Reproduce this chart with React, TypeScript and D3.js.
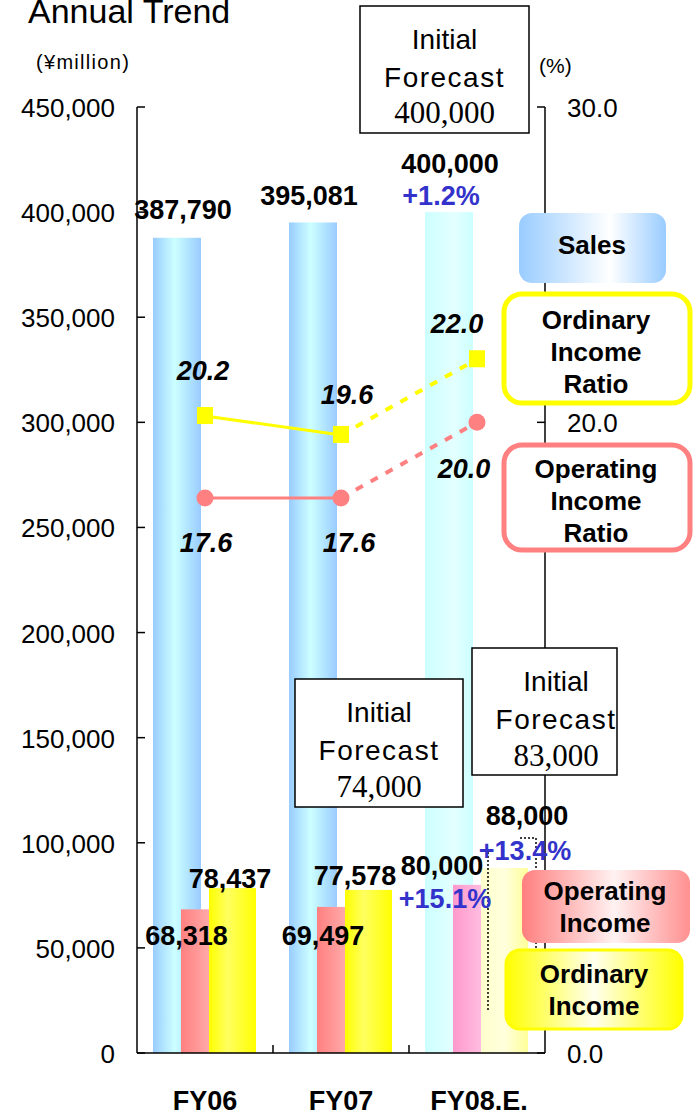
import React from "react";
import * as d3 from "d3";

const categories = ["FY06", "FY07", "FY08.E."];
const sales = [387790, 395081, 400000];
const operatingIncome = [68318, 69497, 80000];
const ordinaryIncome = [78437, 77578, 88000];
const ordinaryRatio = [20.2, 19.6, 22.0];
const operatingRatio = [17.6, 17.6, 20.0];
const leftTicks = [0, 50000, 100000, 150000, 200000, 250000, 300000, 350000, 400000, 450000];
const rightTicks = [0, 10, 20, 30];
const rightTickLabels = [0, 20, 30];
const growth = { sales: "+1.2%", operating: "+15.1%", ordinary: "+13.4%" };
const forecasts = [
  { lines: ["Initial", "Forecast"], value: "400,000" },
  { lines: ["Initial", "Forecast"], value: "74,000" },
  { lines: ["Initial", "Forecast"], value: "83,000" },
];

const W = 699, H = 1117;
const fmt = d3.format(",");
const fmt1 = d3.format(".1f");

export default function App() {
  const x = d3.scaleBand().domain(categories).range([137, 545]).padding(0);
  const yL = d3.scaleLinear().domain([0, 450000]).range([1053, 107]);
  const yR = d3.scaleLinear().domain([0, 30]).range([1053, 107]);
  const bw = x.bandwidth();
  const cx = (i: number) => (x(categories[i]) as number) + bw / 2;

  const sans = "'Liberation Sans', Arial, sans-serif";
  const serif = "'Liberation Serif', 'Times New Roman', serif";

  const line = d3.line<[number, number]>().x((d) => d[0]).y((d) => d[1]);
  const seg = (vals: number[], a: number, b: number) =>
    line([[cx(a), yR(vals[a])], [cx(b), yR(vals[b])]]) as string;

  const salesFill = (i: number) => (i === 2 ? "url(#sales08)" : "url(#salesG)");
  const opFill = (i: number) => (i === 2 ? "url(#op08)" : "url(#opG)");
  const ordFill = (i: number) => (i === 2 ? "url(#ord08)" : "url(#ordG)");

  const salesLbl = [{ dx: -22, dy: -19 }, { dx: -32, dy: -17.5 }, { dx: -27, dy: -39 }];
  const ordLbl = [{ dx: 25, dy: 0 }, { dx: 14, dy: -5 }, { dx: 50, dy: -43 }];
  const opLbl = [{ dx: -18.5, dy: 36 }, { dx: -18, dy: 38 }, { dx: -35, dy: -10 }];

  const ordRatioLbl = [{ dx: -2, dy: -36 }, { dx: 6, dy: -31 }, { dx: -20, dy: -26 }];
  const opRatioLbl = [{ dx: 1, dy: 54 }, { dx: 8, dy: 54 }, { dx: -13, dy: 56 }];

  const boxes = [
    { x: 360, y: 6, w: 169, h: 127, tx: 444.5, b: [49, 87, 123] },
    { x: 295, y: 679, w: 168, h: 128, tx: 379, b: [722, 760, 797] },
    { x: 472, y: 648, w: 145, h: 127, tx: 556, b: [691, 729, 766] },
  ];

  return (
    <svg width={W} height={H} style={{ position: "absolute", left: 0, top: 0, background: "#fff" }}>
      <defs>
        <linearGradient id="salesG" x1="0" x2="1" y1="0" y2="0">
          <stop offset="0" stopColor="#99ccff" />
          <stop offset="0.45" stopColor="#ccffff" />
          <stop offset="1" stopColor="#99ccff" />
        </linearGradient>
        <linearGradient id="sales08" x1="0" x2="1" y1="0" y2="0">
          <stop offset="0" stopColor="#ccffff" />
          <stop offset="0.6" stopColor="#e4ffff" />
          <stop offset="1" stopColor="#ccffff" />
        </linearGradient>
        <linearGradient id="opG" x1="0" x2="1" y1="0" y2="0">
          <stop offset="0" stopColor="#ff8080" />
          <stop offset="1" stopColor="#ffc4c4" />
        </linearGradient>
        <linearGradient id="op08" x1="0" x2="1" y1="0" y2="0">
          <stop offset="0" stopColor="#ff99cc" />
          <stop offset="1" stopColor="#ffd4ee" />
        </linearGradient>
        <linearGradient id="ordG" x1="0" x2="1" y1="0" y2="0">
          <stop offset="0" stopColor="#ffff00" />
          <stop offset="0.4" stopColor="#ffff60" />
          <stop offset="1" stopColor="#ffff00" />
        </linearGradient>
        <linearGradient id="ord08" x1="0" x2="1" y1="0" y2="0">
          <stop offset="0" stopColor="#ffffcc" />
          <stop offset="0.5" stopColor="#ffffdd" />
          <stop offset="1" stopColor="#ffff99" />
        </linearGradient>
        <linearGradient id="legSales" x1="0" x2="1" y1="0" y2="0">
          <stop offset="0" stopColor="#99ccff" />
          <stop offset="0.62" stopColor="#ffffff" />
          <stop offset="1" stopColor="#99ccff" />
        </linearGradient>
        <linearGradient id="legOp" x1="0" x2="1" y1="0" y2="0">
          <stop offset="0" stopColor="#ff7f7f" />
          <stop offset="0.55" stopColor="#fff2f2" />
          <stop offset="1" stopColor="#ff9090" />
        </linearGradient>
        <linearGradient id="legOrd" x1="0" x2="1" y1="0" y2="0">
          <stop offset="0" stopColor="#ffff00" />
          <stop offset="0.5" stopColor="#ffffee" />
          <stop offset="1" stopColor="#ffff00" />
        </linearGradient>
      </defs>

      {/* Title and units */}
      <text x={28} y={23} fontFamily={sans} fontSize={34} fill="#000">Annual Trend</text>
      <text x={36} y={69} fontFamily={sans} fontSize={20} letterSpacing={1.3} fill="#000">(¥million)</text>
      <text x={539} y={73} fontFamily={sans} fontSize={21} fill="#000">(%)</text>

      {/* Bars */}
      {categories.map((c, i) => {
        const x0 = x(c) as number;
        return (
          <g key={c}>
            <rect x={x0 + 16} y={yL(sales[i])} width={48} height={yL(0) - yL(sales[i])} fill={salesFill(i)} />
            <rect x={x0 + 44} y={yL(operatingIncome[i])} width={47} height={yL(0) - yL(operatingIncome[i])} fill={opFill(i)} />
            <rect x={x0 + 72} y={yL(ordinaryIncome[i])} width={47} height={yL(0) - yL(ordinaryIncome[i])} fill={ordFill(i)} />
          </g>
        );
      })}

      {/* dotted marker */}
      <path d="M520,838 H536 V1000 M488,852 V1012" fill="none" stroke="#000" strokeWidth={1.5} strokeDasharray="2,2" />

      {/* Axes */}
      <g stroke="#000" strokeWidth={1.5} fill="none">
        <line x1={137} x2={137} y1={107} y2={1053} />
        <line x1={545} x2={545} y1={107} y2={1053} />
        <line x1={137} x2={545} y1={1053} y2={1053} />
        {leftTicks.map((t) => (
          <line key={t} x1={137} x2={145} y1={yL(t)} y2={yL(t)} />
        ))}
        {rightTicks.map((t) => (
          <line key={t} x1={537} x2={545} y1={yR(t)} y2={yR(t)} />
        ))}
        {categories.slice(1).map((c) => (
          <line key={c} x1={x(c) as number} x2={x(c) as number} y1={1045} y2={1053} />
        ))}
      </g>
      {leftTicks.map((t) => (
        <text key={t} x={115} y={yL(t) + 10} textAnchor="end" fontFamily={sans} fontSize={26} fill="#000">
          {fmt(t)}
        </text>
      ))}
      {rightTickLabels.map((t) => (
        <text key={t} x={567} y={yR(t) + 10} fontFamily={sans} fontSize={26} fill="#000">
          {fmt1(t)}
        </text>
      ))}
      {categories.map((c, i) => (
        <text key={c} x={cx(i) + (i === 2 ? 2 : 0)} y={1110} textAnchor="middle" fontFamily={sans} fontWeight="bold" fontSize={27} fill="#000">
          {c}
        </text>
      ))}

      {/* Ratio lines */}
      <path d={seg(ordinaryRatio, 0, 1)} stroke="#ffff00" strokeWidth={3} fill="none" />
      <path d={seg(ordinaryRatio, 1, 2)} stroke="#ffff00" strokeWidth={4} fill="none" strokeDasharray="8,9" />
      <path d={seg(operatingRatio, 0, 1)} stroke="#ff8080" strokeWidth={3} fill="none" />
      <path d={seg(operatingRatio, 1, 2)} stroke="#ff8080" strokeWidth={4} fill="none" strokeDasharray="8,9" />
      {ordinaryRatio.map((v, i) => (
        <rect key={i} x={cx(i) - 8} y={yR(v) - 9} width={16} height={17} fill="#ffff00" />
      ))}
      {operatingRatio.map((v, i) => (
        <circle key={i} cx={cx(i)} cy={yR(v)} r={8.5} fill="#ff8080" />
      ))}
      {ordinaryRatio.map((v, i) => (
        <text key={i} x={cx(i) + ordRatioLbl[i].dx} y={yR(v) + ordRatioLbl[i].dy} textAnchor="middle" fontFamily={sans} fontWeight="bold" fontStyle="italic" fontSize={27} fill="#000">
          {fmt1(v)}
        </text>
      ))}
      {operatingRatio.map((v, i) => (
        <text key={i} x={cx(i) + opRatioLbl[i].dx} y={yR(v) + opRatioLbl[i].dy} textAnchor="middle" fontFamily={sans} fontWeight="bold" fontStyle="italic" fontSize={27} fill="#000">
          {fmt1(v)}
        </text>
      ))}

      {/* Bar labels */}
      {sales.map((v, i) => (
        <text key={i} x={cx(i) + salesLbl[i].dx} y={yL(v) + salesLbl[i].dy} textAnchor="middle" fontFamily={sans} fontWeight="bold" fontSize={27} fill="#000">
          {fmt(v)}
        </text>
      ))}
      {ordinaryIncome.map((v, i) => (
        <text key={i} x={cx(i) + ordLbl[i].dx} y={yL(v) + ordLbl[i].dy} textAnchor="middle" fontFamily={sans} fontWeight="bold" fontSize={27} fill="#000">
          {fmt(v)}
        </text>
      ))}
      {operatingIncome.map((v, i) => (
        <text key={i} x={cx(i) + opLbl[i].dx} y={yL(v) + opLbl[i].dy} textAnchor="middle" fontFamily={sans} fontWeight="bold" fontSize={27} fill="#000">
          {fmt(v)}
        </text>
      ))}
      <text x={cx(2) - 36} y={yL(sales[2]) - 7} textAnchor="middle" fontFamily={sans} fontWeight="bold" fontSize={27} fill="#3333cc">{growth.sales}</text>
      <text x={cx(2) - 32} y={yL(operatingIncome[2]) + 23} textAnchor="middle" fontFamily={sans} fontWeight="bold" fontSize={27} fill="#3333cc">{growth.operating}</text>
      <text x={cx(2) + 48} y={yL(ordinaryIncome[2]) - 8} textAnchor="middle" fontFamily={sans} fontWeight="bold" fontSize={27} fill="#3333cc">{growth.ordinary}</text>

      {/* Forecast boxes */}
      {boxes.map((b, i) => (
        <g key={i}>
          <rect x={b.x} y={b.y} width={b.w} height={b.h} fill="#fff" stroke="#000" strokeWidth={1.5} />
          <text x={b.tx} y={b.b[0]} textAnchor="middle" fontFamily={sans} fontSize={28} fill="#000">{forecasts[i].lines[0]}</text>
          <text x={b.tx} y={b.b[1]} textAnchor="middle" fontFamily={sans} fontSize={28} fill="#000" letterSpacing={1.5}>{forecasts[i].lines[1]}</text>
          <text x={b.tx} y={b.b[2]} textAnchor="middle" fontFamily={serif} fontSize={31} fill="#000">{forecasts[i].value}</text>
        </g>
      ))}

      {/* Legend boxes */}
      <rect x={519} y={213} width={147} height={70} rx={13} fill="url(#legSales)" />
      <text x={592} y={254} textAnchor="middle" fontFamily={sans} fontWeight="bold" fontSize={26} fill="#000">Sales</text>

      <rect x={504} y={294} width={186} height={109} rx={18} fill="#fff" stroke="#ffff00" strokeWidth={5} />
      {["Ordinary", "Income", "Ratio"].map((t, k) => (
        <text key={t} x={596} y={329 + k * 32} textAnchor="middle" fontFamily={sans} fontWeight="bold" fontSize={26} fill="#000">{t}</text>
      ))}

      <rect x={504} y={445} width={186} height={105} rx={18} fill="#fff" stroke="#ff8080" strokeWidth={5} />
      {["Operating", "Income", "Ratio"].map((t, k) => (
        <text key={t} x={596} y={478 + k * 32} textAnchor="middle" fontFamily={sans} fontWeight="bold" fontSize={26} fill="#000">{t}</text>
      ))}

      <rect x={522} y={870} width={168} height={73} rx={13} fill="url(#legOp)" />
      {["Operating", "Income"].map((t, k) => (
        <text key={t} x={605} y={900 + k * 32} textAnchor="middle" fontFamily={sans} fontWeight="bold" fontSize={26} fill="#000">{t}</text>
      ))}

      <rect x={506} y={950} width={176} height={79} rx={14} fill="url(#legOrd)" stroke="#ffff00" strokeWidth={3} />
      {["Ordinary", "Income"].map((t, k) => (
        <text key={t} x={594} y={983 + k * 32} textAnchor="middle" fontFamily={sans} fontWeight="bold" fontSize={26} fill="#000">{t}</text>
      ))}
    </svg>
  );
}
